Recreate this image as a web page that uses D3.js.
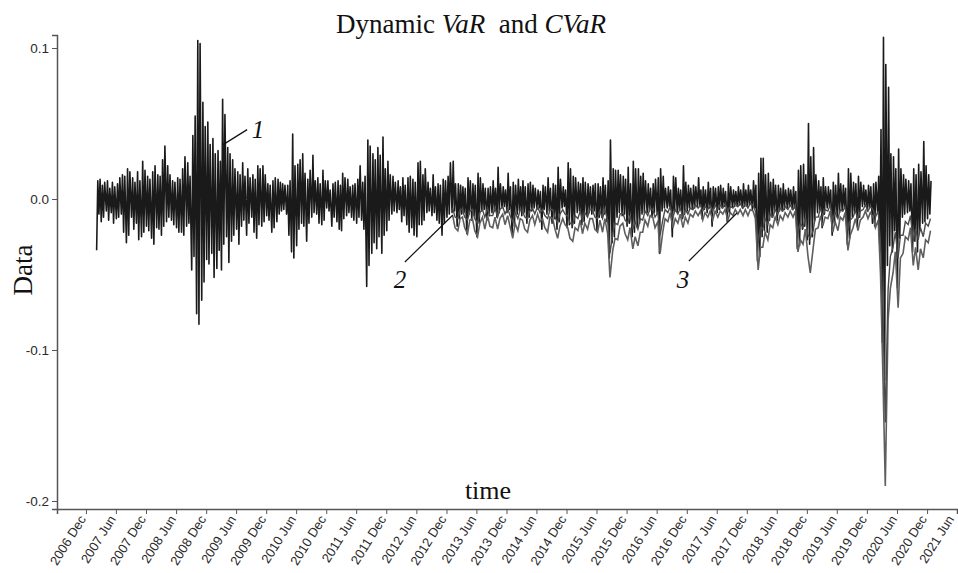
<!DOCTYPE html>
<html>
<head>
<meta charset="utf-8">
<script src="https://cdn.jsdelivr.net/npm/d3@7"></script>
<style>
  body { margin: 0; background: #fff; }
  .axis text { font-family: "Liberation Sans", Arial, sans-serif; fill: #2a2a2a; }
  .axis path, .axis line { stroke: #555; }
  .serif { font-family: "Liberation Serif", "Times New Roman", serif; fill: #111; }
</style>
</head>
<body>
<div id="chart"></div>
<script>
// returns, 4 samples per month, values in %
var r2007 = [-3.4,1.2,-1.0,1.3, -1.5,0.9,-1.2,1.1, -0.8,1.2,-1.4,0.7, -0.9,1.1,-1.6,0.8,
  -1.3,1.0,-1.2,1.4, -1.0,1.6,-2.2,1.5, -2.9,2.0,-2.4,1.8, -1.2,1.4,-2.0,1.1,
  -1.6,1.8,-2.7,1.2, -2.5,2.5,-2.2,1.9, -1.8,1.5,-2.1,1.3];
var r2008 = [-2.6,1.8,-3.0,2.2, -1.9,1.6,-2.0,1.5, -2.4,2.6,-1.8,3.5, -1.5,2.2,-1.2,1.6,
  -1.4,1.2,-1.7,1.1, -1.9,1.4,-2.2,1.3, -2.2,2.0,-2.4,2.8, -1.8,2.4,-1.6,1.5,
  -4.7,4.2,-3.8,5.5, -7.6,10.5,-8.3,10.3, -6.7,6.4,-5.5,4.8, -4.0,5.1,-4.3,3.6];
var r2009 = [-3.6,4.0,-5.2,3.0, -4.6,3.2,-3.4,2.5, -4.7,6.6,-3.0,5.6, -2.5,3.4,-4.2,3.0,
  -2.8,2.6,-2.4,2.0, -2.0,1.8,-3.0,1.6, -1.8,2.4,-1.4,1.5, -2.4,2.0,-1.6,1.4,
  -1.2,1.6,-2.2,1.3, -2.6,2.2,-1.7,2.0, -1.8,2.2,-1.5,1.6, -1.1,1.0,-1.4,0.9];
var r2010 = [-2.2,1.2,-1.9,1.4, -1.5,1.3,-1.0,1.1, -0.8,1.0,-0.7,0.9, -1.0,0.9,-2.4,1.2,
  -3.5,4.3,-3.9,2.2, -3.1,2.3,-2.0,2.6, -1.6,3.0,-1.8,1.7, -2.8,1.3,-1.6,1.9,
  -1.2,2.9,-0.9,1.2, -1.0,1.4,-1.6,1.0, -1.7,1.9,-1.4,1.2, -0.6,1.2,-0.8,0.6];
var r2011 = [-1.8,1.0,-1.2,1.1, -1.5,1.2,-2.0,0.9, -2.1,1.7,-1.3,1.4, -1.1,1.3,-0.9,0.8,
  -1.2,0.9,-1.4,1.0, -1.6,1.3,-1.2,2.2, -1.4,1.1,-2.0,1.5, -5.8,3.9,-4.4,3.5,
  -3.6,3.0,-2.9,2.6, -3.3,3.4,-2.5,2.9, -3.6,4.1,-2.4,2.0, -2.1,2.5,-1.4,1.6];
var r2012 = [-1.0,1.5,-0.8,1.1, -0.9,1.2,-0.7,0.8, -1.5,1.4,-1.1,0.9, -1.7,1.4,-2.2,1.5,
  -1.9,1.3,-2.4,1.1, -2.5,2.4,-1.7,2.5, -1.7,1.6,-1.4,2.0, -0.9,1.1,-0.8,0.7,
  -1.1,1.6,-0.9,0.8, -1.4,1.0,-1.6,0.9, -2.4,1.3,-1.6,1.2, -1.2,1.5,-1.0,2.4];
var r2013 = [-0.9,2.5,-0.8,1.0, -1.8,1.0,-1.3,0.9, -1.0,0.8,-0.9,0.7, -2.3,1.4,-1.0,1.2,
  -1.4,1.0,-1.1,0.9, -2.5,1.7,-1.6,1.4, -0.8,1.0,-0.7,0.7, -1.4,0.7,-1.1,0.8,
  -0.9,1.2,-0.8,0.7, -1.2,2.1,-0.9,1.0, -0.6,0.8,-0.5,0.6, -0.9,1.7,-0.7,0.8];
var r2014 = [-2.3,1.1,-1.8,0.9, -1.0,1.3,-0.8,0.8, -1.1,1.2,-0.9,0.8, -1.6,1.0,-1.2,1.1,
  -0.8,0.9,-0.6,0.7, -0.7,0.6,-0.6,0.5, -2.0,0.9,-0.7,0.8, -1.0,1.4,-0.8,0.7,
  -1.6,1.0,-1.3,0.9, -2.0,2.1,-1.5,1.3, -0.6,0.8,-0.5,0.6, -1.9,2.4,-1.7,2.0];
var r2015 = [-1.9,1.5,-1.6,1.4, -0.9,1.1,-0.8,1.0, -1.7,1.4,-1.5,1.1, -1.1,1.0,-0.9,0.8,
  -1.0,0.9,-0.8,1.0, -2.1,1.0,-1.2,0.8, -1.2,1.4,-1.0,0.9, -1.5,1.2,-3.9,3.9,
  -2.9,2.0,-2.5,1.9, -1.2,1.9,-0.9,1.6, -1.1,1.5,-1.0,1.3, -1.8,2.1,-1.6,1.0];
var r2016 = [-2.5,2.5,-2.2,2.0, -1.9,2.0,-1.6,1.5, -1.0,1.7,-0.9,1.2, -0.9,1.0,-0.8,0.7,
  -1.2,1.0,-0.9,1.3, -1.0,1.4,-3.6,2.0, -0.8,1.5,-0.6,0.7, -0.6,0.8,-0.5,0.6,
  -2.5,1.5,-0.8,1.4, -0.9,0.7,-0.7,0.6, -1.3,2.2,-1.0,1.1, -0.8,0.9,-0.6,0.7];
var r2017 = [-0.7,0.9,-0.6,0.8, -0.5,1.4,-0.4,0.6, -1.3,0.8,-0.7,0.6, -0.9,1.1,-0.6,0.7,
  -1.8,0.8,-0.6,0.7, -0.9,0.8,-0.7,0.9, -0.6,0.7,-0.5,0.5, -1.5,1.0,-0.9,0.8,
  -0.5,0.6,-0.5,0.5, -0.5,0.8,-0.4,0.6, -0.6,1.0,-0.5,0.6, -0.5,0.9,-0.4,0.6];
var r2018 = [-0.7,1.2,-0.6,0.9, -4.1,1.7,-3.8,2.7, -2.5,2.7,-2.1,1.6, -2.2,1.7,-1.4,1.1,
  -1.2,1.3,-0.9,0.9, -1.4,0.9,-0.8,0.7, -0.8,1.0,-0.7,0.6, -0.6,0.7,-0.5,0.6,
  -0.7,0.8,-0.6,0.5, -3.3,1.9,-3.1,2.2, -2.0,2.3,-1.8,1.6, -2.7,5.0,-3.0,2.8];
var r2019 = [-2.5,3.4,-1.4,1.6, -0.9,1.2,-0.7,0.8, -1.9,1.4,-1.0,0.8, -0.6,0.8,-0.5,0.6,
  -2.4,1.1,-1.6,0.9, -1.2,1.7,-0.9,1.0, -0.8,0.9,-0.6,0.7, -3.0,2.0,-2.6,1.7,
  -1.2,1.1,-0.9,1.0, -1.8,1.5,-1.2,1.1, -0.5,0.9,-0.4,0.6, -0.8,0.9,-0.6,0.8];
var r2020 = [-1.6,1.0,-1.8,1.1, -0.9,1.5,-3.4,4.6, -9.5,10.7,-12.0,8.9, -4.4,7.4,-3.1,3.0,
  -3.5,2.8,-2.1,2.0, -5.9,3.3,-2.6,2.0, -1.2,1.6,-1.0,1.3, -0.9,1.2,-0.8,1.0,
  -3.5,2.0,-2.8,1.6, -3.5,2.3,-2.1,1.8, -1.6,3.8,-1.5,2.2, -1.3,1.6,-1.0,1.2];

// dynamic VaR (line 2), 2 samples per month from 2013, in %
var var2013 = [-0.6,-1.2,-1.3,-0.7,-0.7,-1.2,-1.4,-0.8,-0.7,-1.3,-1.6,-0.9,-0.7,-1.2,-0.6,-1.1,-1.1,-0.6,-1.2,-0.7,-0.5,-1.0,-0.6,-1.1];
var var2014 = [-1.5,-0.9,-1.3,-0.7,-0.8,-1.2,-1.3,-0.8,-0.6,-1.0,-0.5,-0.9,-0.7,-1.1,-1.3,-0.7,-0.7,-1.2,-1.6,-1.0,-0.7,-1.0,-1.1,-1.6];
var var2015 = [-1.7,-1.1,-1.3,-0.8,-1.4,-0.9,-1.2,-0.7,-0.7,-1.2,-1.3,-0.8,-1.3,-0.7,-1.4,-3.6,-2.3,-1.6,-1.7,-1.0,-0.9,-1.4,-1.6,-1.1];
var var2016 = [-2.0,-1.5,-2.0,-1.3,-1.4,-0.8,-1.1,-0.6,-0.7,-1.2,-0.9,-2.4,-1.4,-0.7,-0.9,-0.5,-1.2,-0.7,-1.0,-0.6,-1.2,-0.7,-1.0,-0.6];
var var2017 = [-0.7,-0.4,-0.6,-0.4,-0.8,-0.5,-0.7,-0.4,-0.8,-0.4,-0.7,-0.4,-0.6,-0.3,-0.8,-0.5,-0.6,-0.3,-0.5,-0.3,-0.6,-0.3,-0.6,-0.3];
var var2018 = [-0.4,-0.8,-2.9,-1.9,-2.0,-1.3,-1.7,-1.0,-1.2,-0.7,-1.0,-0.6,-0.8,-0.5,-0.7,-0.4,-0.7,-0.4,-2.2,-1.6,-1.9,-1.2,-2.4,-2.6];
var var2019 = [-2.1,-1.2,-1.2,-0.6,-1.1,-0.7,-0.8,-0.4,-1.4,-0.9,-1.3,-0.7,-0.8,-0.5,-2.1,-1.4,-1.2,-0.8,-1.3,-0.8,-0.7,-0.4,-0.8,-0.5];
var var2020 = [-0.7,-1.2,-0.8,-3.0,-7.5,-14.8,-6.0,-3.8,-3.2,-2.2,-3.9,-2.4,-2.4,-1.5,-1.7,-1.1,-2.8,-2.0,-2.7,-1.9,-2.5,-1.6,-1.8,-1.3];

// dynamic CVaR (line 3), 2 samples per month from 2013, in %
var cvar2013 = [-1.1,-1.9,-2.1,-1.3,-1.2,-1.9,-2.3,-1.4,-1.3,-2.1,-2.5,-1.6,-1.2,-2.0,-1.1,-1.8,-1.9,-1.2,-2.0,-1.3,-1.0,-1.7,-1.1,-1.8];
var cvar2014 = [-2.6,-1.6,-2.1,-1.3,-1.4,-2.0,-2.2,-1.4,-1.1,-1.7,-1.0,-1.5,-1.3,-1.9,-2.2,-1.2,-1.3,-2.0,-2.6,-1.8,-1.3,-1.7,-1.9,-2.6];
var cvar2015 = [-2.8,-1.9,-2.1,-1.4,-2.3,-1.6,-2.0,-1.3,-1.3,-2.0,-2.2,-1.4,-2.2,-1.3,-2.3,-5.2,-3.4,-2.6,-2.7,-1.8,-1.6,-2.3,-2.7,-1.9];
var cvar2016 = [-3.3,-2.5,-3.1,-2.2,-2.2,-1.4,-1.8,-1.1,-1.2,-1.9,-1.5,-3.6,-2.2,-1.3,-1.5,-0.9,-1.9,-1.3,-1.6,-1.0,-1.9,-1.2,-1.6,-1.0];
var cvar2017 = [-1.2,-0.8,-1.1,-0.8,-1.4,-0.9,-1.2,-0.8,-1.4,-0.8,-1.2,-0.8,-1.0,-0.7,-1.4,-0.9,-1.1,-0.7,-1.0,-0.7,-1.1,-0.7,-1.1,-0.7];
var cvar2018 = [-0.8,-1.3,-4.7,-3.2,-3.2,-2.2,-2.7,-1.7,-1.9,-1.2,-1.7,-1.1,-1.4,-0.9,-1.2,-0.8,-1.2,-0.8,-3.5,-2.7,-3.0,-2.0,-3.8,-4.9];
var cvar2019 = [-3.3,-2.0,-1.9,-1.1,-1.8,-1.2,-1.3,-0.8,-2.2,-1.5,-2.1,-1.2,-1.4,-0.9,-3.4,-2.4,-1.9,-1.3,-2.1,-1.4,-1.2,-0.8,-1.3,-0.9];
var cvar2020 = [-1.2,-1.9,-1.4,-5.0,-11.9,-19.0,-8.0,-5.9,-4.9,-3.5,-7.2,-3.9,-3.6,-2.5,-2.7,-1.9,-4.4,-3.2,-4.7,-3.3,-3.9,-2.7,-2.9,-2.1];

var tickLabels = ["2006 Dec","2007 Jun","2007 Dec","2008 Jun","2008 Dec","2009 Jun","2009 Dec","2010 Jun",
  "2010 Dec","2011 Jun","2011 Dec","2012 Jun","2012 Dec","2013 Jun","2013 Dec","2014 Jun","2014 Dec",
  "2015 Jun","2015 Dec","2016 Jun","2016 Dec","2017 Jun","2017 Dec","2018 Jun","2018 Dec","2019 Jun",
  "2019 Dec","2020 Jun","2020 Dec","2021 Jun"];
var yTicks = [0.1, 0.0, -0.1, -0.2];

// pointers with the curve numbers
var notes = [
  {label: "1", date: "2009-03-14", value: 0.036, lx: 24, ly: -15, tx: 35, ty: -7},
  {label: "2", date: "2013-01-09", value: -0.0106, lx: -48, ly: 47, tx: -53, ty: 73},
  {label: "3", date: "2017-10-02", value: -0.0093, lx: -48, ly: 48, tx: -54, ty: 75}
];

var margin = {top: 35, right: 1, bottom: 64, left: 57},
    width = 958 - margin.left - margin.right,
    height = 573 - margin.top - margin.bottom;

var svg = d3.select("#chart")
  .append("svg")
    .attr("width", 958)
    .attr("height", 573)
  .append("g")
    .attr("transform", "translate(" + margin.left + "," + margin.top + ")");

// build the series
var returns = [];
[[2007, 1, r2007], [2008, 0, r2008], [2009, 0, r2009], [2010, 0, r2010], [2011, 0, r2011],
 [2012, 0, r2012], [2013, 0, r2013], [2014, 0, r2014], [2015, 0, r2015], [2016, 0, r2016],
 [2017, 0, r2017], [2018, 0, r2018], [2019, 0, r2019], [2020, 0, r2020]].forEach(function(row) {
  row[2].forEach(function(v, i) {
    returns.push({date: new Date(row[0], row[1] + Math.floor(i / 4), 4 + (i % 4) * 7), value: v / 100});
  });
});

function halfMonthly(list) {
  var out = [];
  list.forEach(function(row) {
    row[1].forEach(function(v, i) {
      out.push({date: new Date(row[0], Math.floor(i / 2), 8 + (i % 2) * 14), value: v / 100});
    });
  });
  return out;
}
var varSeries = halfMonthly([[2013, var2013], [2014, var2014], [2015, var2015], [2016, var2016],
  [2017, var2017], [2018, var2018], [2019, var2019], [2020, var2020]]);
var cvarSeries = halfMonthly([[2013, cvar2013], [2014, cvar2014], [2015, cvar2015], [2016, cvar2016],
  [2017, cvar2017], [2018, cvar2018], [2019, cvar2019], [2020, cvar2020]]);

var parseTick = d3.timeParse("%Y %b");
var tickDates = tickLabels.map(function(s) { return parseTick(s); });

// X axis (time)
var x = d3.scaleTime()
  .domain([new Date(2006, 5, 8), new Date(2021, 5, 1)])
  .range([0, width]);
var xAxis = svg.append("g")
  .attr("class", "axis")
  .attr("transform", "translate(0," + height + ")")
  .call(d3.axisBottom(x).tickValues(tickDates).tickSizeOuter(0).tickSize(5)
    .tickFormat(function(d, i) { return tickLabels[i]; }));
xAxis.select(".domain").attr("stroke-width", 1.5);
xAxis.selectAll("text")
  .attr("transform", function(d, i) {
    // last label sits against the right edge
    return "translate(" + (i === tickLabels.length - 1 ? -3 : 0) + ",10) rotate(-58)";
  })
  .attr("y", 0)
  .attr("dy", 0)
  .style("font-size", "13px")
  .style("text-anchor", "end");

// Y axis
var y = d3.scaleLinear()
  .domain([-0.2053, 0.1086])
  .range([height, 0]);
var yAxis = svg.append("g")
  .attr("class", "axis")
  .call(d3.axisLeft(y).tickValues(yTicks).tickSizeOuter(0).tickSize(5)
    .tickFormat(function(d) { return d.toFixed(1); }));
yAxis.select(".domain").attr("stroke-width", 1.5);
yAxis.selectAll("text").style("font-size", "13.5px");

var line = d3.line()
  .x(function(d) { return x(d.date); })
  .y(function(d) { return y(d.value); });

svg.append("path")
  .datum(returns)
  .attr("fill", "none")
  .attr("stroke", "#1a1a1a")
  .attr("stroke-width", 1.6)
  .attr("stroke-linejoin", "round")
  .attr("d", line);

svg.append("path")
  .datum(cvarSeries)
  .attr("fill", "none")
  .attr("stroke", "#5e5e5e")
  .attr("stroke-width", 1.6)
  .attr("d", line);

svg.append("path")
  .datum(varSeries)
  .attr("fill", "none")
  .attr("stroke", "#4a4a4a")
  .attr("stroke-width", 1.4)
  .attr("d", line);

// pointers
var parseDay = d3.timeParse("%Y-%m-%d");
var note = svg.selectAll(".note")
  .data(notes)
  .enter()
  .append("g")
    .attr("transform", function(d) { return "translate(" + x(parseDay(d.date)) + "," + y(d.value) + ")"; });
note.append("line")
  .attr("x1", 0).attr("y1", 0)
  .attr("x2", function(d) { return d.lx; })
  .attr("y2", function(d) { return d.ly; })
  .attr("stroke", "#111")
  .attr("stroke-width", 1.2);
note.append("text")
  .attr("class", "serif")
  .attr("x", function(d) { return d.tx; })
  .attr("y", function(d) { return d.ty; })
  .attr("text-anchor", "middle")
  .style("font-size", "25px")
  .style("font-style", "italic")
  .text(function(d) { return d.label; });

// title
var title = svg.append("text")
  .attr("class", "serif")
  .attr("x", 414)
  .attr("y", -2)
  .attr("text-anchor", "middle")
  .style("font-size", "27px")
  .style("white-space", "pre");
title.append("tspan").text("Dynamic ");
title.append("tspan").style("font-style", "italic").text("VaR");
title.append("tspan").text("  and ");
title.append("tspan").style("font-style", "italic").text("CVaR");

// axis labels
svg.append("text")
  .attr("class", "serif")
  .attr("x", width / 2 - 19)
  .attr("y", height - 10)
  .attr("text-anchor", "middle")
  .style("font-size", "26px")
  .text("time");

svg.append("text")
  .attr("class", "serif")
  .attr("transform", "rotate(-90)")
  .attr("x", -235)
  .attr("y", -25)
  .attr("text-anchor", "middle")
  .style("font-size", "27px")
  .text("Data");
</script>
</body>
</html>
